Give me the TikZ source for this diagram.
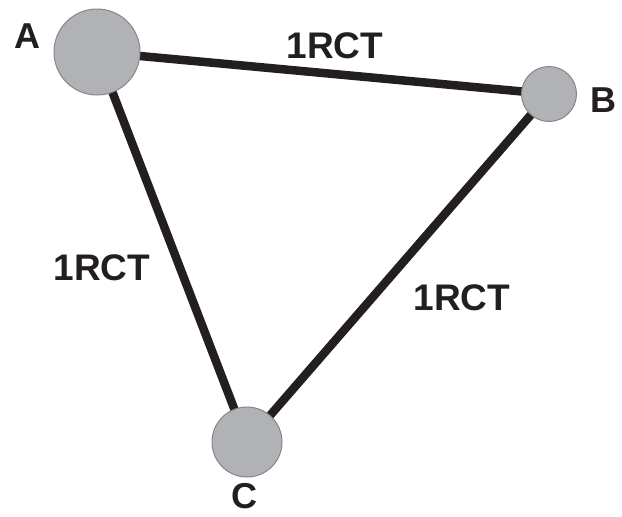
\documentclass[tikz,border=0pt]{standalone}
\usepackage{fontspec}
\setmainfont{Liberation Sans}
\definecolor{nodefill}{HTML}{B1B2B5}
\definecolor{nodeedge}{HTML}{85868A}
\definecolor{linkcol}{HTML}{231F20}
\begin{document}
\begin{tikzpicture}[x=1pt,y=-1pt,
  site/.style={circle,fill=nodefill,draw=nodeedge,line width=1pt,inner sep=0pt},
  link/.style={draw=linkcol,line width=8.5pt},
  tag/.style={text=linkcol,font=\bfseries\fontsize{36}{36}\selectfont,inner sep=0pt},
  lbl/.style={text=linkcol,font=\bfseries\fontsize{37}{37}\selectfont,inner sep=0pt}]
  \useasboundingbox (0,0) rectangle (622,517);
  % sites
  \coordinate (a) at (97,52);
  \coordinate (b) at (549,94);
  \coordinate (c) at (247,442);
  % links between sites
  \draw[link] (a) -- (b);
  \draw[link] (a) -- (c);
  \draw[link] (b) -- (c);
  \node[site,minimum size=86pt] (A) at (a) {};
  \node[site,minimum size=55pt] (B) at (b) {};
  \node[site,minimum size=70pt] (C) at (c) {};
  % site names
  \node[tag] (tA) at (27,36) {A};
  \node[tag] (tB) at (603,100) {B};
  \node[tag] (tC) at (244,496) {C};
  % link labels
  \node[lbl] (lAB) at (335,46) {1RCT};
  \node[lbl] (lAC) at (102,268) {1RCT};
  \node[lbl] (lBC) at (462,298) {1RCT};
\end{tikzpicture}
\end{document}
